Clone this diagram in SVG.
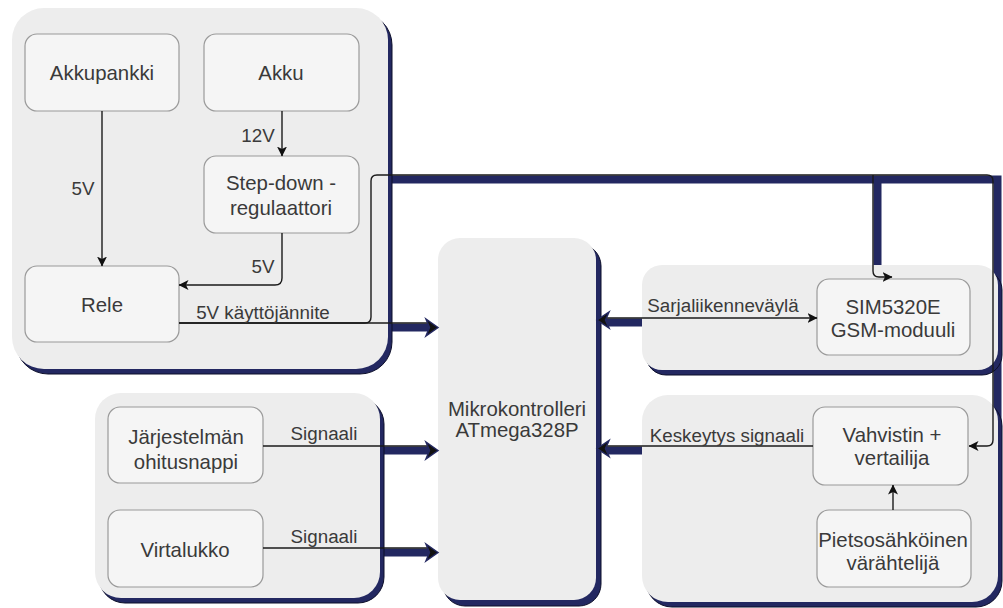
<svg xmlns="http://www.w3.org/2000/svg" width="1003" height="608" viewBox="0 0 1003 608">
<defs>
<style>
.ctr{fill:#ededed;}
.csh{fill:#232861;stroke:#0d0f2a;stroke-width:1;}
.box{fill:#f5f5f5;stroke:#9a9a9a;stroke-width:1.2;}
.bsh{fill:#d6d6d6;}
.band{fill:none;stroke:#232861;stroke-width:8;}
.wire{fill:none;stroke:#1a1a1a;stroke-width:1.4;}
.t{font-family:"Liberation Sans",Arial,sans-serif;font-size:20.4px;fill:#3a3a3a;text-anchor:middle;}
.l{font-family:"Liberation Sans",Arial,sans-serif;font-size:18.8px;fill:#3a3a3a;text-anchor:middle;}
.ah{fill:#111;stroke:#232861;stroke-width:1.5;}
</style>
<marker id="arr" viewBox="0 0 10 10" refX="9.5" refY="5" markerWidth="10" markerHeight="10" markerUnits="userSpaceOnUse" orient="auto">
<path d="M0,0 L10,5 L0,10 L2.5,5 Z" fill="#111"/>
</marker>
</defs>
<rect width="1003" height="608" fill="#ffffff"/>

<g id="connector-shadows">
<path class="band" d="M375.5,327.5 V179.5 H997.5 V450.5"/>
<path class="band" d="M877.5,179.5 V280"/>
<path class="band" d="M375.5,327.5 H430"/>
<path class="band" d="M263,450.5 H430"/>
<path class="band" d="M263,552.5 H430"/>
<path class="band" d="M606,322.5 H817"/>
<path class="band" d="M606,450.5 H813"/>
</g>

<g id="container-power">
<rect class="csh" x="16" y="13" width="376" height="361" rx="32"/>
<rect class="ctr" x="12" y="8" width="376" height="361" rx="32"/>
</g>
<g id="container-inputs">
<rect class="csh" x="99" y="398" width="285" height="205" rx="26"/>
<rect class="ctr" x="95" y="393" width="285" height="205" rx="26"/>
</g>
<g id="mikrokontrolleri">
<rect class="csh" x="443" y="244" width="158" height="362" rx="22"/>
<rect class="ctr" x="438" y="238" width="158" height="362" rx="22"/>
<text class="t" x="517" y="416">Mikrokontrolleri</text>
<text class="t" x="517" y="437">ATmega328P</text>
</g>
<g id="container-gsm">
<rect class="csh" x="646" y="270" width="356" height="105" rx="20"/>
<rect class="ctr" x="642" y="265" width="356" height="105" rx="20"/>
</g>
<g id="container-sensor">
<rect class="csh" x="646" y="400" width="356" height="207" rx="26"/>
<rect class="ctr" x="642" y="395" width="356" height="207" rx="26"/>
</g>

<g id="akkupankki">
<rect class="box" x="25" y="34" width="154" height="77" rx="12"/>
<text class="t" x="102" y="80">Akkupankki</text>
</g>
<g id="akku">
<rect class="box" x="204" y="34" width="155" height="77" rx="12"/>
<text class="t" x="281" y="80">Akku</text>
</g>
<g id="step-down">
<rect class="box" x="204" y="156" width="155" height="77" rx="12"/>
<text class="t" x="281" y="190">Step-down -</text>
<text class="t" x="281" y="215">regulaattori</text>
</g>
<g id="rele">
<rect class="box" x="25" y="266" width="154" height="76" rx="12"/>
<text class="t" x="102" y="312">Rele</text>
</g>
<g id="ohitusnappi">
<rect class="box" x="108" y="407" width="155" height="76" rx="12"/>
<text class="t" x="186" y="444">Järjestelmän</text>
<text class="t" x="186" y="469">ohitusnappi</text>
</g>
<g id="virtalukko">
<rect class="box" x="108" y="510" width="155" height="77" rx="12"/>
<text class="t" x="185" y="557">Virtalukko</text>
</g>
<g id="gsm">
<rect class="box" x="817" y="279" width="153" height="76" rx="12"/>
<text class="t" x="893" y="314">SIM5320E</text>
<text class="t" x="893" y="337">GSM-moduuli</text>
</g>
<g id="vahvistin">
<rect class="box" x="813" y="407" width="155" height="78" rx="12"/>
<text class="t" x="892" y="442">Vahvistin +</text>
<text class="t" x="892" y="465">vertailija</text>
</g>
<g id="pietso">
<rect class="box" x="817" y="510" width="154" height="77" rx="12"/>
<text class="t" x="893" y="547">Pietsosähköinen</text>
<text class="t" x="893" y="570">värähtelijä</text>
</g>

<g id="connectors">
<path class="wire" marker-end="url(#arr)" d="M102,111 V266"/>
<path class="wire" marker-end="url(#arr)" d="M282,111 V156"/>
<path class="wire" marker-end="url(#arr)" d="M282,233 V278 Q282,285 275,285 H179"/>
<path class="wire" d="M179,323 H430"/>
<path class="wire" d="M179,323 H365 Q371,323 371,317 V181 Q371,175 377,175 H987 Q993,175 993,181 V440 Q993,446 987,446 H969" marker-end="url(#arr)"/>
<path class="wire" marker-end="url(#arr)" d="M873,175 V271 Q873,277 879,277 H892"/>
<path class="wire" d="M263,446 H430"/>
<path class="wire" d="M263,548 H430"/>
<path class="wire" marker-end="url(#arr)" d="M606,318 H817"/>
<path class="wire" d="M813,446 H606"/>
<path class="wire" marker-end="url(#arr)" d="M893,510 V485"/>
<path class="ah" d="M438,327.5 L426,319 L429.5,327.5 L426,336 Z"/>
<path class="ah" d="M438,450.5 L426,442 L429.5,450.5 L426,459 Z"/>
<path class="ah" d="M438,552.5 L426,544 L429.5,552.5 L426,561 Z"/>
<path class="ah" d="M597,320 L609,312 L605.5,320 L609,328 Z"/>
<path class="ah" d="M597,448.5 L609,440.5 L605.5,448.5 L609,456.5 Z"/>
<text class="l" x="83" y="195">5V</text>
<text class="l" x="258" y="141.5">12V</text>
<text class="l" x="263" y="272.5">5V</text>
<text class="l" x="263" y="318.5">5V käyttöjännite</text>
<text class="l" x="324" y="439.5">Signaali</text>
<text class="l" x="324" y="542.5">Signaali</text>
<text class="l" x="723" y="311.5">Sarjaliikenneväylä</text>
<text class="l" x="727" y="441.5">Keskeytys signaali</text>
</g>
</svg>
